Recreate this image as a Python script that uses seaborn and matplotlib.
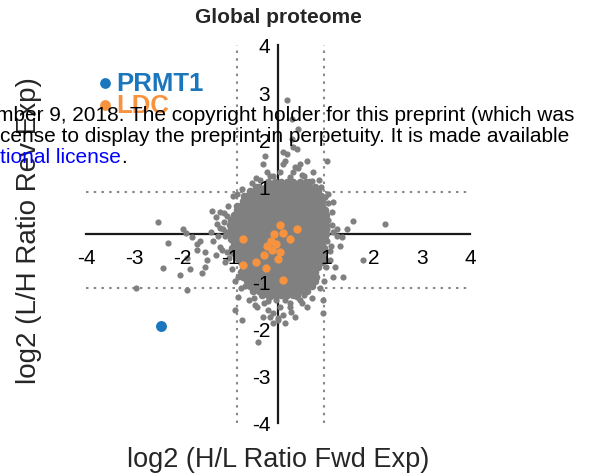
import matplotlib
matplotlib.use("Agg")
import matplotlib.pyplot as plt
import seaborn as sns
import pandas as pd

sns.set_theme(style="white")
plt.rcParams['font.family'] = ['Liberation Sans', 'DejaVu Sans']
plt.rcParams['axes.unicode_minus'] = False

# ---------------- data ----------------
# dense core of the grey cloud: (y, x values in that row)
core_rows = [
    (1.1, [-0.20, -0.07, 0.06, 0.19, 0.32, 0.45, 0.58, 0.65]),
    (1.0, [-0.45, -0.39, -0.26, -0.13, 0.00, 0.13, 0.26, 0.39, 0.52, 0.65, 0.78]),
    (0.9, [-0.59, -0.46, -0.33, -0.20, -0.07, 0.06, 0.19, 0.32, 0.45, 0.58, 0.71, 0.84]),
    (0.8, [-0.70, -0.65, -0.52, -0.39, -0.26, -0.13, 0.00, 0.13, 0.26, 0.39, 0.52, 0.65, 0.78, 0.90]),
    (0.7, [-0.72, -0.59, -0.46, -0.33, -0.20, -0.07, 0.06, 0.19, 0.32, 0.45, 0.58, 0.71, 0.84, 0.92]),
    (0.6, [-0.85, -0.78, -0.65, -0.52, -0.39, -0.26, -0.13, 0.00, 0.13, 0.26, 0.39, 0.52, 0.65, 0.78, 0.91]),
    (0.5, [-0.85, -0.72, -0.59, -0.46, -0.33, -0.20, -0.07, 0.06, 0.19, 0.32, 0.45, 0.58, 0.71, 0.84, 0.97]),
    (0.4, [-0.91, -0.78, -0.65, -0.52, -0.39, -0.26, -0.13, 0.00, 0.13, 0.26, 0.39, 0.52, 0.65, 0.78, 0.91, 1.00]),
    (0.3, [-0.98, -0.85, -0.72, -0.59, -0.46, -0.33, -0.20, -0.07, 0.06, 0.19, 0.32, 0.45, 0.58, 0.71, 0.84, 0.97]),
    (0.2, [-1.00, -0.91, -0.78, -0.65, -0.52, -0.39, -0.26, -0.13, 0.00, 0.13, 0.26, 0.39, 0.52, 0.65, 0.78, 0.91, 1.00]),
    (0.1, [-0.98, -0.85, -0.72, -0.59, -0.46, -0.33, -0.20, -0.07, 0.06, 0.19, 0.32, 0.45, 0.58, 0.71, 0.84, 0.97]),
    (0.0, [-1.00, -0.91, -0.78, -0.65, -0.52, -0.39, -0.26, -0.13, 0.00, 0.13, 0.26, 0.39, 0.52, 0.65, 0.78, 0.91, 1.00]),
    (-0.1, [-0.98, -0.85, -0.72, -0.59, -0.46, -0.33, -0.20, -0.07, 0.06, 0.19, 0.32, 0.45, 0.58, 0.71, 0.84, 0.97]),
    (-0.2, [-0.91, -0.78, -0.65, -0.52, -0.39, -0.26, -0.13, 0.00, 0.13, 0.26, 0.39, 0.52, 0.65, 0.78, 0.91]),
    (-0.3, [-0.95, -0.85, -0.72, -0.59, -0.46, -0.33, -0.20, -0.07, 0.06, 0.19, 0.32, 0.45, 0.58, 0.71, 0.84, 0.96]),
    (-0.4, [-0.91, -0.78, -0.65, -0.52, -0.39, -0.26, -0.13, 0.00, 0.13, 0.26, 0.39, 0.52, 0.65, 0.78, 0.91]),
    (-0.5, [-0.85, -0.72, -0.59, -0.46, -0.33, -0.20, -0.07, 0.06, 0.19, 0.32, 0.45, 0.58, 0.71, 0.84, 0.93]),
    (-0.6, [-0.78, -0.65, -0.52, -0.39, -0.26, -0.13, 0.00, 0.13, 0.26, 0.39, 0.52, 0.65, 0.78, 0.91]),
    (-0.7, [-0.72, -0.59, -0.46, -0.33, -0.20, -0.07, 0.06, 0.19, 0.32, 0.45, 0.58, 0.71, 0.84]),
    (-0.8, [-0.78, -0.65, -0.52, -0.39, -0.26, -0.13, 0.00, 0.13, 0.26, 0.39, 0.52, 0.65, 0.78]),
    (-0.9, [-0.72, -0.59, -0.46, -0.33, -0.20, -0.07, 0.06, 0.19, 0.32, 0.45, 0.58, 0.71, 0.80]),
    (-1.0, [-0.65, -0.52, -0.39, -0.26, -0.13, 0.00, 0.13, 0.26, 0.39, 0.52, 0.65, 0.78]),
    (-1.1, [-0.59, -0.46, -0.33, -0.20, -0.07, 0.06, 0.19, 0.32, 0.45, 0.58, 0.71]),
    (-1.2, [-0.52, -0.39, -0.26, -0.13, 0.00, 0.13, 0.26, 0.39, 0.52, 0.60]),
    (-1.3, [-0.33, -0.20, -0.07, 0.06, 0.19, 0.32, 0.40]),
]

# fuzzy fringe just outside the dense core
fringe_x = [-0.45, -0.10, 0.25, 0.50, 0.70, -0.55, 0.90,
            -1.05, -1.12, -1.08, -1.20, -1.02, -1.10, -0.95, -0.90, -0.78, -1.25, -1.40, -1.30,
            1.05, 1.12, 1.02, 1.08, 1.00, 0.95, 0.88, 0.98, 1.15,
            -0.50, 0.55, -0.20, 0.45]
fringe_y = [1.18, 1.22, 1.20, 1.25, 1.12, 1.08, 1.00,
            0.60, 0.45, 0.05, 0.12, -0.50, -0.60, -0.75, -1.00, -1.15, -0.05, 0.05, 0.35,
            0.65, 0.20, -0.15, -0.35, -0.70, -1.00, -1.15, 0.78, 0.05,
            -1.35, -1.30, -1.42, -1.40]

# scattered grey points further out
outer_x = [0.19, 0.29, 0.42, 0.29, 0.31, 0.40, 0.10, 0.18, -0.27, 0.15, 0.60, 1.02, 0.10, -0.31,
           0.46, 0.35, 0.42, 0.04, -0.23, 0.32, 0.73, -0.17, -0.38, 0.55, 0.85, -0.75, -0.93, -0.85,
           1.15, 1.12, 1.23, 1.29, 1.56, 1.44, 1.08, 0.94, 0.94, 1.02, 1.23, 2.23, 1.33, 1.19, 1.35,
           1.77, 1.15, 1.05, 1.10, 1.05,
           -2.50, -2.29, -1.92, -1.69, -1.63, -1.52, -1.35, -1.27, -1.15, -1.21, -1.06, -1.83, -2.04,
           -2.40, -1.58, -1.48, -0.83, -1.90, -2.95, -1.98, -1.79, -1.69, -1.52, -1.90, -1.38, -1.21,
           -1.06, -1.17, -1.00, -1.10, -1.30, -1.12,
           -0.83, -0.90, -0.75, -0.44, -0.31, -0.21, -0.10, 0.04, 0.10, 0.25, 0.40, 0.60, -0.17, -0.69,
           -0.48, -0.10, 0.25, 0.35, -0.42, 0.00, -0.17, 0.15, 0.00, -0.05, 0.15, 0.50, 0.70, -0.60,
           -0.30, 0.28]
outer_y = [2.84, 2.44, 2.23, 2.01, 1.84, 1.80, 1.74, 1.70, 1.65, 1.55, 1.55, 1.55, 1.48, 1.48,
           1.48, 1.42, 1.40, 1.31, 1.31, 1.31, 1.31, 1.23, 1.15, 1.22, 1.15, 0.95, 0.81, 0.85,
           0.67, 0.46, -0.05, -0.26, 0.27, 0.10, -0.54, -1.39, -1.67, 0.10, 0.10, 0.21, -0.07, -0.69, -0.92,
           -0.54, -0.90, 0.85, -0.25, 0.30,
           0.25, -0.20, 0.03, -0.22, -0.14, -0.39, -0.15, 0.21, 0.10, -0.28, -0.39, -0.75, -0.86,
           -0.71, -0.82, -0.54, -0.92, -0.50, -1.15, 0.10, -0.07, -0.33, -0.69, -1.18, 0.48, 0.46,
           0.38, -0.33, -0.39, -0.05, -0.45, 0.25,
           -1.33, -1.60, -1.82, -1.54, -1.75, -1.60, -1.88, -1.54, -1.71, -1.45, -1.33, -1.54, -1.33, -1.11,
           -1.50, -1.67, -1.54, -1.75, -2.28, -1.77, -1.75, -1.88, -1.82, -1.40, -1.40, -1.45, -1.35, -1.40,
           -1.45, -1.65]

ldc_x = [0.04, 0.39, 0.10, -0.08, 0.25, -0.73, -0.04, -0.23, -0.12, 0.04, -0.29, 0.00, -0.45,
         -0.25, -0.73, 0.10, -0.15]
ldc_y = [0.18, 0.11, 0.03, -0.01, -0.11, -0.10, -0.22, -0.26, -0.33, -0.38, -0.45, -0.53, -0.60,
         -0.71, -0.65, -0.98, -0.15]

prmt1_x = [-2.43]
prmt1_y = [-1.94]

ticks = [-4, -3, -2, -1, 1, 2, 3, 4]
fwd_cut = [-0.85, 0.96]
rev_cut = [0.88, -1.14]

GREY = "#808080"
ORANGE = "#f7923f"
BLUE = "#1a76bd"

# ---------------- tables ----------------
core_df = pd.DataFrame({"fwd": [x for y, xs in core_rows for x in xs],
                        "rev": [y for y, xs in core_rows for x in xs]})
spread_df = pd.DataFrame({"fwd": fringe_x + outer_x, "rev": fringe_y + outer_y})
ldc_df = pd.DataFrame({"fwd": ldc_x, "rev": ldc_y})
prmt_df = pd.DataFrame({"fwd": prmt1_x, "rev": prmt1_y})

# ---------------- figure ----------------
W, H = 598, 477
fig = plt.figure(figsize=(W / 100, H / 100), dpi=100)
ax = fig.add_axes([86 / W, 1 - 424 / H, 384 / W, 378 / H])

for xv in fwd_cut:
    ax.axvline(xv, color="#8a8a8a", lw=1.5, dashes=(1.2, 2.5), zorder=1)
for yv in rev_cut:
    ax.axhline(yv, color="#8a8a8a", lw=1.5, dashes=(1.2, 2.5), zorder=1)

# the dense core stands for thousands of overlapping proteins, so its dots are drawn a bit larger
sns.scatterplot(data=core_df, x="fwd", y="rev", color=GREY, s=30, linewidth=0,
                ax=ax, zorder=3, legend=False)
sns.scatterplot(data=spread_df, x="fwd", y="rev", color=GREY, s=20, linewidth=0,
                ax=ax, zorder=3, legend=False)
sns.scatterplot(data=ldc_df, x="fwd", y="rev", color=ORANGE, s=36, linewidth=0,
                ax=ax, zorder=4, label="LDC")
sns.scatterplot(data=prmt_df, x="fwd", y="rev", color=BLUE, s=62, linewidth=0,
                ax=ax, zorder=5, label="PRMT1")

ax.set_xlim(-4, 4)
ax.set_ylim(-4, 4)
ax.set_xticks(ticks)
ax.set_yticks(ticks)
ax.set_xticklabels([str(t) for t in ticks])
ax.set_yticklabels([str(t) for t in ticks])

for side in ["top", "right"]:
    ax.spines[side].set_visible(False)
ax.spines["left"].set_position(("data", 0))
ax.spines["bottom"].set_position(("data", 0))
for side in ["left", "bottom"]:
    ax.spines[side].set_linewidth(1.6)
    ax.spines[side].set_color("#1a1a1a")
    ax.spines[side].set_zorder(2)
ax.xaxis.set_zorder(6)
ax.yaxis.set_zorder(6)
ax.tick_params(axis="x", labelsize=15, length=4, width=1.4, color="#1a1a1a",
               direction="out", pad=6, labelcolor="black")
ax.tick_params(axis="y", labelsize=15, length=4, width=1.4, color="#1a1a1a",
               direction="out", pad=1.5, labelcolor="black")

ax.set_xlabel("log2 (H/L Ratio Fwd Exp)", fontsize=19.5)
ax.xaxis.set_label_coords(0.5, -(460 - 424) / 378)
ax.xaxis.label.set_va("center")
ax.set_ylabel("log2 (L/H Ratio Rev Exp)", fontsize=20)
ax.yaxis.set_label_coords((29 - 86) / 384, (424 - 231) / 378)
ax.yaxis.label.set_va("center")

ax.set_title("Global proteome", fontsize=15, fontweight="bold",
             y=(424 - 18) / 378, va="center", pad=0)

handles, labels = ax.get_legend_handles_labels()
hmap = dict(zip(labels, handles))
leg = ax.legend([hmap["PRMT1"], hmap["LDC"]], ["PRMT1", "LDC"],
                loc="center left", bbox_to_anchor=(94 / W, 1 - 95 / H),
                bbox_transform=fig.transFigure, frameon=False,
                prop=dict(weight="bold", size=18.5), handletextpad=0.0,
                handlelength=0.85, labelspacing=-0.07, borderpad=0, borderaxespad=0)
for t, c in zip(leg.get_texts(), [BLUE, ORANGE]):
    t.set_color(c)
for h in leg.legend_handles:
    h.set_sizes([60])

# overlaid preprint notice
wm_size = 15
fig.text(-4 / W, 1 - 121 / H, "mber 9, 2018. The copyright holder for this preprint (which was",
         fontsize=wm_size, color="black", va="baseline", ha="left", zorder=20)
fig.text(0 / W, 1 - 142 / H, "cense to display the preprint in perpetuity. It is made available",
         fontsize=wm_size, color="black", va="baseline", ha="left", zorder=20)
t3 = fig.text(0 / W, 1 - 163 / H, "tional license", fontsize=wm_size, color="#0000ff",
              va="baseline", ha="left", zorder=20)
fig.canvas.draw()
bb = t3.get_window_extent()
fig.text(bb.x1 / W, 1 - 163 / H, ".", fontsize=wm_size, color="black",
         va="baseline", ha="left", zorder=20)

fig.savefig("out.png", dpi=100)
